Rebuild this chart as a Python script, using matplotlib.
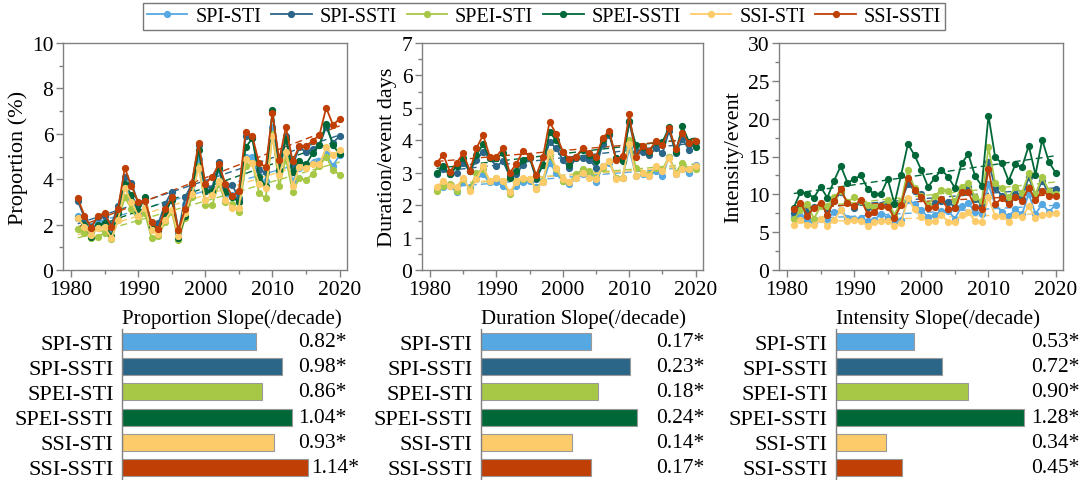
import numpy as np
import matplotlib.pyplot as plt
from matplotlib.ticker import MultipleLocator

plt.rcParams['font.family'] = ['Liberation Serif', 'DejaVu Serif']
plt.rcParams['mathtext.fontset'] = 'stix'

years = np.arange(1981, 2021)
names = ['SPI-STI', 'SPI-SSTI', 'SPEI-STI', 'SPEI-SSTI', 'SSI-STI', 'SSI-SSTI']
colors = ['#56A8E2', '#2B6688', '#A7C846', '#006838', '#FDCB6A', '#BF3F04']

# Proportion (%)
prop_spi_sti = [2.4, 2.15, 1.7, 2.15, 2.1, 1.75, 2.6, 3.7, 3.1, 2.5, 2.75, 1.85, 1.8, 2.6, 3.1, 1.6, 2.9, 3.5, 4.9, 3.5,
                3.5, 4.4, 3.3, 3.3, 3.1, 5.0, 5.0, 4.0, 3.9, 6.3, 4.3, 5.1, 3.9, 4.5, 4.6, 4.7, 4.8, 5.1, 4.6, 5.05]
prop_spi_ssti = [3.05, 2.3, 1.9, 2.35, 2.4, 2.0, 2.8, 4.1, 3.85, 2.9, 3.1, 2.0, 2.05, 2.9, 3.45, 1.7, 3.2, 3.8, 5.5, 3.7,
                 3.6, 4.75, 3.6, 3.75, 3.15, 5.9, 5.8, 4.4, 4.3, 6.95, 4.7, 5.9, 4.6, 5.4, 5.2, 5.35, 5.5, 6.3, 5.6, 5.9]
prop_spei_sti = [1.8, 1.65, 1.4, 1.45, 1.65, 1.35, 2.2, 3.2, 2.7, 2.15, 2.5, 1.4, 1.5, 2.1, 2.55, 1.3, 2.3, 3.2, 4.6, 2.85,
                 2.85, 3.8, 3.0, 2.9, 2.55, 4.6, 4.7, 3.4, 3.15, 6.0, 3.7, 4.9, 3.45, 4.05, 3.95, 4.25, 4.6, 5.0, 4.4, 4.2]
prop_spei_ssti = [2.3, 2.0, 1.45, 2.0, 2.05, 1.5, 2.5, 3.8, 3.3, 2.6, 3.2, 1.9, 1.7, 2.5, 3.1, 1.4, 2.4, 3.4, 5.3, 3.5,
                  3.5, 4.5, 3.45, 3.2, 3.0, 5.4, 5.8, 4.1, 3.7, 7.05, 4.4, 5.75, 4.3, 4.8, 4.65, 5.15, 5.5, 6.45, 5.5, 5.1]
prop_ssi_sti = [2.3, 1.9, 1.55, 1.85, 1.9, 1.4, 2.2, 3.6, 3.0, 2.4, 2.75, 1.75, 1.6, 2.2, 2.65, 1.5, 2.5, 3.35, 4.5, 3.1,
                3.3, 3.9, 3.1, 2.75, 2.75, 4.9, 4.7, 3.8, 3.6, 5.9, 4.2, 5.2, 3.7, 4.55, 4.5, 4.65, 4.65, 5.4, 5.05, 5.3]
prop_ssi_ssti = [3.15, 2.4, 1.85, 2.4, 2.5, 1.9, 2.7, 4.5, 3.7, 3.0, 3.05, 2.1, 1.8, 2.7, 3.2, 1.75, 2.7, 3.85, 5.6, 3.8,
                 4.1, 4.65, 3.8, 3.25, 3.5, 6.1, 5.9, 4.7, 4.55, 6.9, 4.85, 6.3, 4.8, 5.45, 5.45, 5.7, 5.95, 7.15, 6.4, 6.65]

# Duration/event (days)
dur_spi_sti = [2.5, 2.55, 2.6, 2.4, 2.7, 2.55, 2.8, 2.95, 2.7, 2.7, 2.6, 2.4, 2.6, 2.7, 2.75, 2.55, 2.7, 3.3, 3.0, 2.75,
               2.65, 2.85, 2.95, 2.95, 2.7, 3.2, 3.3, 2.85, 2.85, 3.75, 2.9, 2.95, 2.9, 3.05, 2.9, 3.5, 2.95, 3.1, 3.0, 3.25]
dur_spi_ssti = [2.95, 3.1, 2.95, 3.0, 3.3, 3.05, 3.4, 3.65, 3.45, 3.2, 3.35, 2.9, 2.95, 3.25, 3.45, 2.8, 3.25, 3.95, 3.75, 3.4,
                3.15, 3.45, 3.45, 3.4, 3.15, 3.9, 4.15, 3.45, 3.4, 4.55, 3.65, 3.65, 3.55, 3.75, 3.6, 4.3, 3.6, 4.05, 3.7, 3.95]
dur_spei_sti = [2.45, 2.6, 2.65, 2.45, 2.8, 2.5, 3.0, 3.1, 2.75, 2.85, 2.75, 2.35, 2.7, 2.8, 2.8, 2.5, 2.75, 3.55, 3.1, 2.75,
                2.7, 2.95, 3.1, 3.05, 2.85, 3.15, 3.35, 2.85, 2.85, 4.0, 3.15, 3.0, 2.95, 3.15, 3.1, 3.5, 3.0, 3.3, 3.1, 3.1]
dur_spei_ssti = [3.0, 3.2, 2.95, 3.2, 3.45, 3.05, 3.55, 3.88, 3.45, 3.45, 3.6, 2.85, 3.05, 3.4, 3.5, 2.85, 3.25, 4.25, 4.0, 3.65,
                 3.25, 3.5, 3.7, 3.55, 3.35, 4.0, 4.22, 3.45, 3.35, 4.6, 3.85, 3.8, 3.65, 3.95, 3.95, 4.4, 3.65, 4.43, 3.95, 3.8]
dur_ssi_sti = [2.55, 2.75, 2.6, 2.55, 2.85, 2.45, 2.8, 3.2, 2.75, 2.85, 2.75, 2.4, 2.7, 2.85, 2.8, 2.5, 2.7, 3.65, 3.15, 2.8,
               2.7, 2.85, 3.0, 2.85, 2.8, 3.2, 3.35, 2.8, 2.85, 3.9, 2.9, 3.0, 2.9, 3.2, 3.05, 3.45, 2.95, 3.1, 3.1, 3.2]
dur_ssi_ssti = [3.3, 3.55, 3.03, 3.3, 3.6, 3.06, 3.76, 4.16, 3.5, 3.5, 3.76, 3.0, 3.27, 3.67, 3.5, 2.92, 3.48, 4.57, 4.19, 3.65,
                3.42, 3.5, 3.76, 3.6, 3.5, 4.07, 4.29, 3.4, 3.52, 4.81, 3.5, 3.81, 3.68, 3.97, 3.86, 4.37, 3.73, 4.22, 3.93, 3.97]

# Intensity/event
int_spi_sti = [7.0, 7.2, 6.6, 6.2, 6.8, 6.8, 7.6, 7.9, 6.9, 6.7, 6.9, 6.5, 6.6, 7.4, 6.9, 6.3, 6.6, 9.3, 8.7, 7.9,
               7.0, 7.3, 7.8, 7.8, 6.8, 8.4, 8.8, 7.7, 7.4, 11.3, 8.6, 7.7, 7.1, 8.0, 7.4, 10.1, 7.4, 8.7, 7.7, 8.6]
int_spi_ssti = [7.5, 8.5, 7.6, 8.3, 8.6, 7.9, 9.1, 10.3, 9.0, 8.2, 9.0, 8.3, 8.2, 8.6, 8.8, 7.1, 9.0, 11.4, 10.5, 10.0,
                8.5, 8.8, 9.1, 9.0, 8.3, 10.7, 11.0, 9.4, 8.6, 14.3, 10.9, 9.8, 9.1, 10.1, 9.4, 12.3, 9.8, 11.8, 10.0, 10.7]
int_spei_sti = [6.7, 7.9, 8.7, 6.8, 8.4, 8.4, 9.6, 10.5, 9.0, 9.6, 9.1, 8.6, 8.3, 8.5, 9.2, 7.3, 9.1, 13.2, 10.8, 9.8,
                8.6, 9.8, 10.6, 10.5, 9.1, 11.0, 11.5, 9.6, 9.1, 16.2, 11.5, 10.8, 9.6, 11.0, 10.2, 12.8, 10.0, 12.3, 10.5, 10.0]
int_spei_ssti = [8.25, 10.3, 10.1, 9.55, 11.0, 9.55, 11.8, 13.75, 11.55, 12.0, 12.5, 10.75, 10.0, 10.1, 12.0, 8.75, 12.6, 16.65, 15.15, 13.2,
                 11.0, 12.15, 13.25, 12.3, 10.85, 14.1, 15.3, 12.45, 11.1, 20.4, 14.9, 14.1, 11.8, 13.95, 13.6, 16.45, 12.6, 17.2, 14.3, 12.85]
int_ssi_sti = [6.0, 6.6, 5.9, 5.9, 6.8, 5.8, 6.6, 7.9, 6.5, 6.6, 6.5, 5.8, 6.4, 6.5, 6.5, 5.8, 6.2, 9.5, 8.0, 7.0,
               6.4, 6.5, 7.3, 6.4, 6.4, 7.3, 7.6, 6.5, 6.4, 9.6, 7.1, 7.2, 6.4, 7.3, 7.0, 8.4, 6.9, 7.3, 7.4, 7.5]
int_ssi_ssti = [8.0, 8.9, 7.2, 8.2, 8.9, 7.3, 9.1, 10.7, 8.8, 8.5, 9.3, 7.4, 7.7, 8.5, 8.3, 6.9, 8.6, 12.2, 10.6, 9.6,
                8.2, 8.3, 9.4, 8.0, 8.2, 10.3, 10.3, 8.3, 8.1, 13.3, 8.7, 9.5, 8.7, 9.6, 9.1, 10.9, 9.2, 10.5, 9.8, 9.8]

# slopes per decade
slope_prop = [0.82, 0.98, 0.86, 1.04, 0.93, 1.14]
slope_dur = [0.17, 0.23, 0.18, 0.24, 0.14, 0.17]
slope_int = [0.53, 0.72, 0.90, 1.28, 0.34, 0.45]

panels = [
    ([prop_spi_sti, prop_spi_ssti, prop_spei_sti, prop_spei_ssti, prop_ssi_sti, prop_ssi_ssti],
     'Proportion (%)', 10, 2, 1),
    ([dur_spi_sti, dur_spi_ssti, dur_spei_sti, dur_spei_ssti, dur_ssi_sti, dur_ssi_ssti],
     'Duration/event days', 7, 1, 0.5),
    ([int_spi_sti, int_spi_ssti, int_spei_sti, int_spei_ssti, int_ssi_sti, int_ssi_ssti],
     'Intensity/event', 30, 5, 2.5),
]

bar_panels = [
    (slope_prop, 'Proportion Slope(/decade)', 1.47, 1.08),
    (slope_dur, 'Duration Slope(/decade)', 0.354, 0.269),
    (slope_int, 'Intensity Slope(/decade)', 1.70, 1.33),
]

W, H = 1091, 481
fig = plt.figure(figsize=(W / 100, H / 100), dpi=100)

line_lefts = [63, 422, 779]
line_widths = [284, 281, 284]
bar_lefts = [122, 481, 836]
bar_widths = [240, 230, 250]
spine_c = '#808080'

handles = []
for k, (series, ylabel, ymax, major, minor) in enumerate(panels):
    ax = fig.add_axes([line_lefts[k] / W, 1 - 271 / H, line_widths[k] / W, 227 / H])
    for s, c, n in zip(series, colors, names):
        y = np.array(s)
        h, = ax.plot(years, y, color=c, lw=1.3, marker='o', ms=4.2, label=n, zorder=3)
        p = np.polyfit(years, y, 1)
        ax.plot(years, np.polyval(p, years), color=c, lw=1.0, ls=(0, (5, 3)), zorder=2)
        if k == 0:
            handles.append(h)
    ax.set_xlim(1978.8, 2021.1)
    ax.set_ylim(0, ymax)
    ax.xaxis.set_major_locator(MultipleLocator(10))
    ax.xaxis.set_minor_locator(MultipleLocator(5))
    ax.yaxis.set_major_locator(MultipleLocator(major))
    ax.yaxis.set_minor_locator(MultipleLocator(minor))
    ax.tick_params(which='both', direction='out', top=False, right=False, labelsize=15.5,
                   color=spine_c, width=1)
    ax.tick_params(which='major', length=5, pad=2)
    ax.tick_params(which='minor', length=3)
    ax.set_ylabel(ylabel, fontsize=16, labelpad=3)
    for sp in ax.spines.values():
        sp.set_color(spine_c)
        sp.set_linewidth(1.0)

for k, (vals, title, xmax, lab_x) in enumerate(bar_panels):
    ax = fig.add_axes([bar_lefts[k] / W, 0, bar_widths[k] / W, 151 / H])
    pos = np.arange(len(vals))
    ax.barh(pos, vals, height=0.67, color=colors, edgecolor='#9a9a9a', linewidth=0.8)
    ax.set_ylim(5.5, -0.5)
    ax.set_xlim(0, xmax)
    ax.set_yticks(pos)
    ax.set_yticklabels(names, fontsize=16)
    ax.set_xticks([])
    ax.tick_params(axis='y', length=0, pad=6)
    for sp in ['top', 'right', 'bottom']:
        ax.spines[sp].set_visible(False)
    ax.spines['left'].set_color(spine_c)
    ax.spines['left'].set_linewidth(1.0)
    for i, v in enumerate(vals):
        ax.text(max(lab_x, v + 0.012 * xmax), i, f'{v:.2f}*', fontsize=15.5, va='center', ha='left')
    ax.text(0, -0.55, title, fontsize=15, ha='left', va='bottom', transform=ax.transData)

leg = fig.legend(handles=handles, labels=names, loc='upper center', ncol=6,
                 bbox_to_anchor=(544 / W, 1 - 4 / H), fontsize=14.5, frameon=True, fancybox=False,
                 handlelength=2.0, handletextpad=0.4, columnspacing=0.5, borderpad=0.2,
                 borderaxespad=0)
leg.get_frame().set_edgecolor('#555555')
leg.get_frame().set_linewidth(1.0)

fig.savefig('out.png', dpi=100)
